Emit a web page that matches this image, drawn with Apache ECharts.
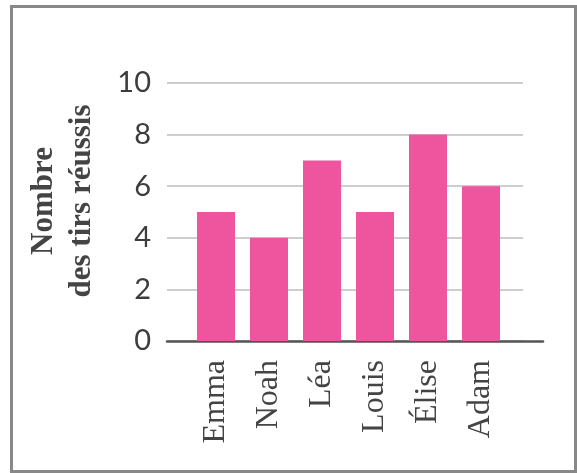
<!DOCTYPE html>
<html>
<head>
<meta charset="utf-8">
<script src="https://cdn.jsdelivr.net/npm/echarts@6/dist/echarts.min.js"></script>
<style>html,body{margin:0;padding:0;background:#fff;}#c{width:577px;height:473px;}</style>
</head>
<body>
<div id="c"></div>
<script>
var categories = ['Emma', 'Noah', 'Léa', 'Louis', 'Élise', 'Adam'];
var values = [5, 4, 7, 5, 8, 6];
var yTicks = [0, 2, 4, 6, 8, 10];
var yName = 'Nombre\ndes tirs réussis';

var chart = echarts.init(document.getElementById('c'), null, {renderer: 'canvas'});
var yMin = yTicks[0], yMax = yTicks[yTicks.length - 1];
var option = {
  animation: false,
  backgroundColor: '#ffffff',
  grid: [
    {left: 167, right: 54, top: 83, bottom: 132},
    {left: 189.5, width: 318, top: 83, bottom: 132},
    {left: 167, right: 34, top: 83, bottom: 132}
  ],
  xAxis: [
    {gridIndex: 0, type: 'category', data: categories, show: false},
    {gridIndex: 1, type: 'category', data: categories,
      axisLine: {show: false}, axisTick: {show: false},
      axisLabel: {rotate: 90, margin: 19, color: '#444', fontFamily: 'Liberation Serif', fontSize: 32, interval: 0}},
    {gridIndex: 2, type: 'category', data: categories,
      axisLine: {show: true, lineStyle: {color: '#555', width: 2.5}},
      axisTick: {show: false}, axisLabel: {show: false}}
  ],
  yAxis: [
    {gridIndex: 0, type: 'value', min: yMin, max: yMax, interval: 2,
      axisLine: {show: false}, axisTick: {show: false},
      splitLine: {show: true, lineStyle: {color: '#bdbdbd', width: 1.5}},
      axisLabel: {margin: 16, color: '#3d3d3d', fontFamily: 'Lato', fontSize: 29,
        formatter: function (v) { return yTicks.indexOf(v) >= 0 ? String(v) : ''; }}},
    {gridIndex: 1, type: 'value', min: yMin, max: yMax, show: false},
    {gridIndex: 2, type: 'value', min: yMin, max: yMax, show: false}
  ],
  graphic: [
    {type: 'rect', shape: {x: 11.5, y: 6.5, width: 564, height: 465},
      style: {fill: 'none', stroke: '#888888', lineWidth: 3}, z: 100},
    {type: 'text', x: 63, y: 201, rotation: Math.PI / 2,
      style: {text: yName, fill: '#444', font: 'bold 31px "Liberation Serif"',
        align: 'center', verticalAlign: 'middle', lineHeight: 38}}
  ],
  series: [
    {type: 'bar', xAxisIndex: 1, yAxisIndex: 1, data: values, barWidth: 38,
      itemStyle: {color: '#ee559e'}, z: 3}
  ]
};
chart.setOption(option);
</script>
</body>
</html>
